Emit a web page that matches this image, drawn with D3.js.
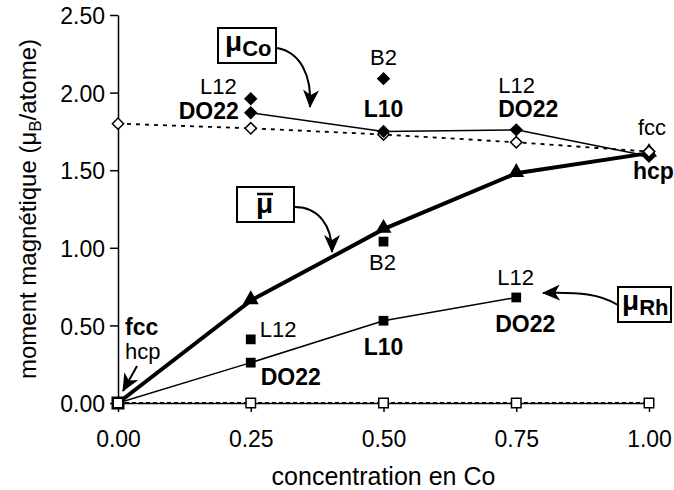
<!DOCTYPE html>
<html><head><meta charset="utf-8">
<script src="https://cdn.jsdelivr.net/npm/d3@7"></script>
<style>
body{margin:0;background:#fff;}
text{font-family:"Liberation Sans",Arial,sans-serif;fill:#000;}
</style></head>
<body><svg id="c" width="674" height="490"></svg>
<script>
// ---- data ----
const conc = [0, 0.25, 0.5, 0.75, 1.0];
const xTicks = [0, 0.25, 0.5, 0.75, 1.0];
const yTicks = [0, 0.5, 1.0, 1.5, 2.0, 2.5];
const muCoOrdered = [null, 1.87, 1.75, 1.76, 1.59];   // filled diamonds, solid line
const muCoFcc     = [1.80, 1.77, 1.73, 1.68, 1.62];   // open diamonds, dashed
const muCoExtraX  = [0.25, 0.5];                       // L12, B2
const muCoExtraY  = [1.96, 2.09];
const muMean      = [0, 0.66, 1.12, 1.48, 1.61];      // thick line, triangles
const muMeanExtraX = [0.5];                            // B2
const muMeanExtraY = [1.04];
const muRh        = [0, 0.26, 0.53, 0.68];            // thin line, filled squares
const muRhExtraX  = [0.25];                            // L12
const muRhExtraY  = [0.41];
const zeroSeries  = [0, 0, 0, 0, 0];                   // open squares

const W = 674, H = 490;
const m = {l:118, r:25, t:15, b:87};
const svg = d3.select("#c");
const x = d3.scaleLinear().domain([0,1]).range([m.l, W - m.r]);
const y = d3.scaleLinear().domain([0,2.5]).range([H - m.b, m.t]);

// axes
const gx = svg.append("g").attr("transform", `translate(0,${y(0)})`)
  .call(d3.axisBottom(x).tickValues(xTicks).tickFormat(d3.format(".2f")).tickSize(9).tickSizeOuter(0).tickPadding(19));
const gy = svg.append("g").attr("transform", `translate(${x(0)},0)`)
  .call(d3.axisLeft(y).tickValues(yTicks).tickFormat(d3.format(".2f")).tickSize(8).tickSizeOuter(0).tickPadding(5));
[gx, gy].forEach(g => {
  g.selectAll("path,line").attr("stroke","#000").attr("stroke-width",1.5);
  g.selectAll("text").attr("font-size",23).attr("fill","#000").attr("font-family","Liberation Sans, Arial, sans-serif");
});
gy.selectAll(".tick text").attr("dy","0.38em");

// axis titles
svg.append("text").attr("x", x(0.5)).attr("y", 485).attr("text-anchor","middle")
  .attr("font-size",25).text("concentration en Co");
const yt = svg.append("text").attr("transform", `translate(36,${(y(0)+y(2.5))/2}) rotate(-90)`)
  .attr("text-anchor","middle").attr("font-size",24);
yt.append("tspan").text("moment magnétique (μ");
yt.append("tspan").attr("font-size",17).attr("dy",5).text("B");
yt.append("tspan").attr("dy",-5).text("/atome)");

const line = d3.line().defined(d => d[1] !== null).x(d => x(d[0])).y(d => y(d[1]));
const pts = arr => conc.slice(0, arr.length).map((c,i) => [c, arr[i]]);

// zero series (dashed)
svg.append("path").datum(pts(zeroSeries)).attr("d", line).attr("fill","none")
  .attr("stroke","#000").attr("stroke-width",2).attr("stroke-dasharray","4,3");
// mu Co fcc dashed
svg.append("path").datum(pts(muCoFcc)).attr("d", line).attr("fill","none")
  .attr("stroke","#000").attr("stroke-width",1.8).attr("stroke-dasharray","4,5");
// mu Co ordered
svg.append("path").datum(pts(muCoOrdered)).attr("d", line).attr("fill","none")
  .attr("stroke","#000").attr("stroke-width",1.5);
// mu Rh
svg.append("path").datum(pts(muRh)).attr("d", line).attr("fill","none")
  .attr("stroke","#000").attr("stroke-width",1.5);
// mu mean thick
svg.append("path").datum(pts(muMean)).attr("d", line).attr("fill","none")
  .attr("stroke","#000").attr("stroke-width",4);

// markers
const sym = (type, size) => d3.symbol().type(type).size(size)();
function drawPts(data, type, size, fill, sw){
  svg.append("g").selectAll("path").data(data.filter(d => d[1] !== null)).join("path")
    .attr("d", sym(type, size))
    .attr("transform", d => `translate(${x(d[0])},${y(d[1])})`)
    .attr("fill", fill).attr("stroke","#000").attr("stroke-width", sw);
}
function drawDiamonds(data, fill){
  svg.append("g").selectAll("path").data(data.filter(d => d[1] !== null)).join("path")
    .attr("d", sym(d3.symbolSquare, 64))
    .attr("transform", d => `translate(${x(d[0])},${y(d[1])}) rotate(45)`)
    .attr("fill", fill).attr("stroke","#000").attr("stroke-width",1.5);
}
// triangles (mean)
svg.append("g").selectAll("path").data(pts(muMean).slice(1)).join("path")
  .attr("d", sym(d3.symbolTriangle, 110))
  .attr("transform", d => `translate(${x(d[0])},${y(d[1])-1})`)
  .attr("fill","#000");
drawPts(muMeanExtraX.map((c,i)=>[c, muMeanExtraY[i]]), d3.symbolSquare, 95, "#000", 0);
drawPts(pts(muRh).slice(1), d3.symbolSquare, 95, "#000", 0);
drawPts(muRhExtraX.map((c,i)=>[c, muRhExtraY[i]]), d3.symbolSquare, 95, "#000", 0);
drawPts(pts(zeroSeries), d3.symbolSquare, 90, "#fff", 1.5);
drawPts([[0,0]], d3.symbolSquare, 110, "#fff", 2.5);
drawDiamonds(pts(muCoFcc), "#fff");
drawDiamonds(pts(muCoOrdered), "#000");
drawDiamonds(muCoExtraX.map((c,i)=>[c, muCoExtraY[i]]), "#000");
// re-draw open fcc diamond at 1.0 on top
drawDiamonds([[1.0, muCoFcc[4]]], "#fff");

// labels: [text, anchorX, anchorY, dx, dy, textAnchor, bold]
const labels = [
  ["L12", 0.25, 1.96, -14, -5, "end", false],
  ["DO22", 0.25, 1.87, -12, 6, "end", true],
  ["B2", 0.5, 2.09, 0, -14, "middle", false],
  ["L10", 0.5, 1.75, 0, -14, "middle", true],
  ["L12", 0.75, 1.76, -18, -37, "start", false],
  ["DO22", 0.75, 1.76, -18, -13, "start", true],
  ["fcc", 1.0, 1.62, -11, -17, "start", false],
  ["hcp", 1.0, 1.58, -16, 21, "start", true],
  ["B2", 0.5, 1.04, -1, 28, "middle", false],
  ["L12", 0.25, 0.41, 9, -2, "start", false],
  ["DO22", 0.25, 0.26, 10, 22, "start", true],
  ["L10", 0.5, 0.53, 0, 34, "middle", true],
  ["L12", 0.75, 0.68, -19, -12, "start", false],
  ["DO22", 0.75, 0.68, -21, 35, "start", true],
  ["fcc", 0, 0, 7, -68, "start", true],
  ["hcp", 0, 0, 7, -44, "start", false]
];
svg.append("g").selectAll("text").data(labels).join("text")
  .attr("x", d => x(d[1]) + d[3]).attr("y", d => y(d[2]) + d[4])
  .attr("text-anchor", d => d[5]).attr("font-weight", d => d[6] ? "bold" : "normal")
  .attr("font-size", d => d[6] ? 23 : 22).text(d => d[0]);

// arrowheads
svg.append("defs").append("marker").attr("id","ah").attr("markerUnits","userSpaceOnUse")
  .attr("viewBox","0 -8 18 16").attr("refX",17).attr("refY",0)
  .attr("markerWidth",18).attr("markerHeight",16).attr("orient","auto")
  .append("path").attr("d","M0,-8 L18,0 L0,8 L5,0 Z").attr("fill","#000");
const arrows = [
  "M277,48 C300,52 312,75 310,107",
  "M295,207 C318,207 332,225 332,252",
  "M618,305 C600,294 580,292 543,293",
  "M137,366 L123,391"
];
svg.append("g").selectAll("path").data(arrows).join("path").attr("d", d => d)
  .attr("fill","none").attr("stroke","#000").attr("stroke-width",2).attr("marker-end","url(#ah)");

// boxes
const boxes = [[218,28,58,35],[237,187,57,35],[618,287,53,35]];
svg.append("g").selectAll("rect").data(boxes).join("rect")
  .attr("x", d=>d[0]).attr("y", d=>d[1]).attr("width", d=>d[2]).attr("height", d=>d[3])
  .attr("fill","#fff").attr("stroke","#000").attr("stroke-width",2);
const t1 = svg.append("text").attr("x",225).attr("y",51).attr("font-weight","bold").attr("font-size",28);
t1.append("tspan").text("μ"); t1.append("tspan").attr("font-size",22).attr("dy",5).text("Co");
svg.append("text").attr("x",256).attr("y",213).attr("font-weight","bold").attr("font-size",28).text("μ");
svg.append("line").attr("x1",257).attr("x2",273).attr("y1",194).attr("y2",194).attr("stroke","#000").attr("stroke-width",2.5);
const t3 = svg.append("text").attr("x",622).attr("y",310).attr("font-weight","bold").attr("font-size",28);
t3.append("tspan").text("μ"); t3.append("tspan").attr("font-size",22).attr("dy",5).text("Rh");
</script></body></html>
